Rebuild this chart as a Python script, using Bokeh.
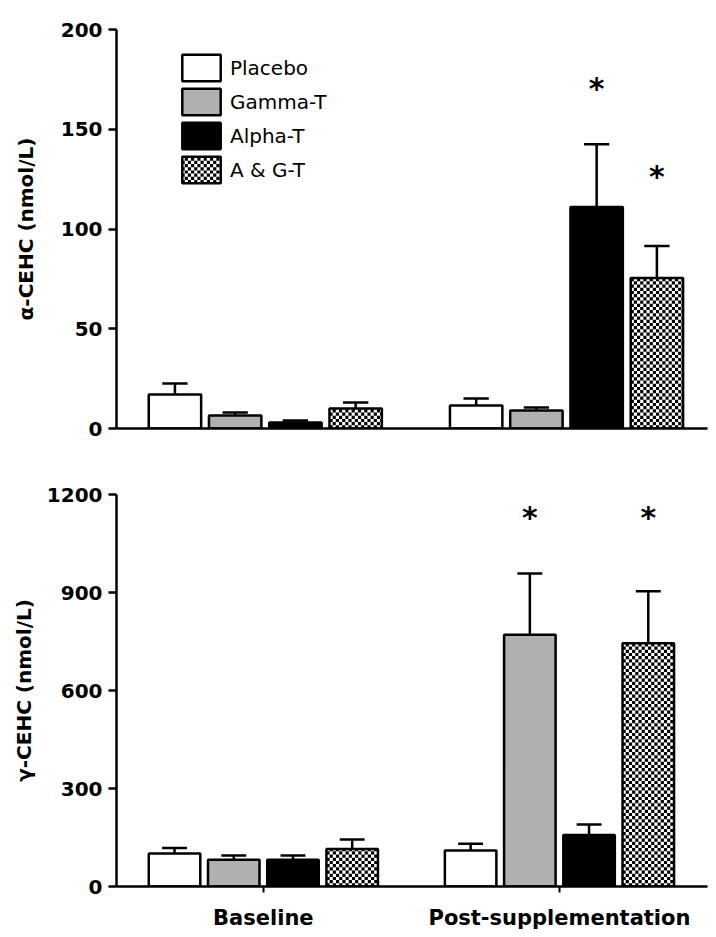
import math
from bokeh.plotting import figure
from bokeh.layouts import column
from bokeh.models import (Range1d, FixedTicker, Legend, LegendItem,
                          ColumnDataSource)
from bokeh.core.properties import value
from bokeh.embed import file_html
from bokeh.resources import INLINE

# ---------------- data ----------------
groups = ["Baseline", "Post-supplementation"]
series = ["Placebo", "Gamma-T", "Alpha-T", "A & G-T"]

alpha_base = [17, 6.5, 3, 10]
alpha_base_sem = [5.5, 1.5, 1, 3]
alpha_post = [11.5, 9, 111, 75.5]
alpha_post_sem = [3.5, 1.5, 31.5, 16]

gamma_base = [101, 82, 82, 115]
gamma_base_sem = [17, 13, 13, 29]
gamma_post = [110, 771, 158, 745]
gamma_post_sem = [21, 187, 32, 159]

alpha_star_series = ["Alpha-T", "A & G-T"]
alpha_star_y = [171.5, 127.5]
gamma_star_series = ["Gamma-T", "A & G-T"]
gamma_star_y = [1135, 1135]

alpha_ticks = [0, 50, 100, 150, 200]
gamma_ticks = [0, 300, 600, 900, 1200]

# ---------------- styles ----------------
FONT = "DejaVu Sans"
fills = ["white", "#b0b0b0", "black", None]
checkered = [False, False, False, True]
CELL_PX = 3.2          # checkerboard square size in screen pixels

GROUP_STEP = 5
BAR_W = 0.87
CAP_HALF = 0.21

# legend geometry (screen px, relative to the plot frame)
LEG_X, LEG_Y = 61, 242
GW, GH, SP = 48, 33, 1


def xpos(gi, si):
    return gi * GROUP_STEP + si - 1.5


def checker_cells(x0, x1, y0, y1, sx, sy, acc):
    nx = int(math.ceil((x1 - x0) / sx - 1e-9))
    ny = int(math.ceil((y1 - y0) / sy - 1e-9))
    for j in range(ny):
        for i in range(nx):
            if (i + j) % 2 == 0:
                acc["left"].append(x0 + i * sx)
                acc["right"].append(min(x0 + (i + 1) * sx, x1))
                acc["bottom"].append(y0 + j * sy)
                acc["top"].append(min(y0 + (j + 1) * sy, y1))


def panel(base, base_sem, post, post_sem, star_series, star_y, y_end, yticks,
          ylabel, show_x, width, height, left_border, right_border, top_border,
          bottom_border, label_standoff, xr, with_legend):
    p = figure(width=width, height=height, x_range=Range1d(*xr),
               y_range=Range1d(0, y_end), output_backend="svg",
               toolbar_location=None, min_border_left=left_border,
               min_border_right=right_border,
               min_border_top=top_border, min_border_bottom=bottom_border)
    p.grid.visible = False
    p.outline_line_color = None

    frame_w = width - left_border - right_border
    frame_h = height - top_border - bottom_border
    ppx = frame_w / (xr[1] - xr[0])
    ppy = frame_h / y_end
    sx, sy = CELL_PX / ppx, CELL_PX / ppy

    cells = dict(left=[], right=[], bottom=[], top=[])
    sources = []
    for si, name in enumerate(series):
        xs = [xpos(gi, si) for gi in range(len(groups))]
        tops = [base[si], post[si]]
        sems = [base_sem[si], post_sem[si]]
        ups = [t + s for t, s in zip(tops, sems)]
        src = ColumnDataSource(dict(x=xs, top=tops, up=ups,
                                    x0=[x - CAP_HALF for x in xs],
                                    x1=[x + CAP_HALF for x in xs]))
        p.segment(x0="x", y0="top", x1="x", y1="up", source=src,
                  line_color="black", line_width=2.5)
        p.segment(x0="x0", y0="up", x1="x1", y1="up", source=src,
                  line_color="black", line_width=2.5)
        if checkered[si]:
            for x, t in zip(xs, tops):
                checker_cells(x - BAR_W / 2, x + BAR_W / 2, 0, t, sx, sy, cells)
            if with_legend:
                k = si
                top_px = LEG_Y + len(series) * GH + (len(series) - 1) * SP - k * (GH + SP)
                bot_px = top_px - GH
                lx0 = xr[0] + (LEG_X + 0.1 * GW) / ppx
                lx1 = xr[0] + (LEG_X + 0.9 * GW) / ppx
                ly0 = (bot_px + 0.1 * GH) / ppy
                ly1 = (top_px - 0.1 * GH) / ppy
                checker_cells(lx0, lx1, ly0, ly1, sx, sy, cells)
        sources.append(src)

    p.quad(left="left", right="right", bottom="bottom", top="top",
           source=ColumnDataSource(cells), fill_color="black", line_color=None)

    bar_renderers = []
    for si, src in enumerate(sources):
        r = p.vbar(x="x", top="top", bottom=0, width=BAR_W, source=src,
                   fill_color=fills[si], line_color="black", line_width=2.5)
        bar_renderers.append(r)

    stx = [xpos(1, series.index(s)) for s in star_series]
    p.text(x=stx, y=star_y, text=["*"] * len(stx), text_font=value(FONT),
           text_font_style="bold", text_font_size="30px", text_align="center",
           text_baseline="middle", text_color="black", y_offset=2)

    ya = p.yaxis[0]
    ya.ticker = FixedTicker(ticks=yticks)
    ya.axis_label = ylabel
    ya.axis_label_text_font = FONT
    ya.axis_label_text_font_style = "bold"
    ya.axis_label_text_font_size = "20px"
    ya.axis_label_standoff = label_standoff
    ya.major_label_text_font = FONT
    ya.major_label_text_font_style = "bold"
    ya.major_label_text_font_size = "20px"
    ya.major_label_standoff = 6
    ya.major_tick_out = 8
    ya.major_tick_in = 0
    ya.minor_tick_line_color = None
    ya.axis_line_width = 2.5
    ya.major_tick_line_width = 2.5
    ya.axis_line_color = "black"
    ya.major_tick_line_color = "black"
    ya.major_label_text_color = "black"
    ya.axis_label_text_color = "black"

    xa = p.xaxis[0]
    xa.axis_line_width = 2.5
    xa.axis_line_color = "black"
    xa.minor_tick_line_color = None
    if show_x:
        xa.ticker = FixedTicker(ticks=[gi * GROUP_STEP for gi in range(len(groups))])
        xa.major_label_overrides = {gi * GROUP_STEP: g for gi, g in enumerate(groups)}
        xa.major_tick_out = 6
        xa.major_tick_in = 0
        xa.major_tick_line_width = 2
        xa.major_label_standoff = 13
        xa.major_label_text_font = FONT
        xa.major_label_text_font_style = "bold"
        xa.major_label_text_font_size = "21px"
        xa.major_label_text_color = "black"
    else:
        xa.ticker = FixedTicker(ticks=[])
        xa.major_tick_line_color = None
        xa.major_label_text_font_size = "0px"

    if with_legend:
        legend = Legend(items=[LegendItem(label=s, renderers=[r])
                               for s, r in zip(series, bar_renderers)],
                        location=(LEG_X, LEG_Y), glyph_width=GW, glyph_height=GH,
                        spacing=SP, padding=0, margin=0, label_standoff=5,
                        border_line_color=None, background_fill_alpha=0,
                        label_text_font=FONT, label_text_font_size="20px",
                        label_text_color="black")
        p.add_layout(legend)
    return p


p1 = panel(alpha_base, alpha_base_sem, alpha_post, alpha_post_sem,
           alpha_star_series, alpha_star_y, 200, alpha_ticks,
           "α-CEHC (nmol/L)", False, 715, 460, 116, 1, 29, 32, 20,
           (-2.47, 7.34), True)
p2 = panel(gamma_base, gamma_base_sem, gamma_post, gamma_post_sem,
           gamma_star_series, gamma_star_y, 1200, gamma_ticks,
           "γ-CEHC (nmol/L)", True, 715, 474, 113, 8, 34, 48, 8,
           (-2.48, 7.5), False)

layout = column(p1, p2, spacing=0)
open("out.html", "w").write(file_html(layout, INLINE))
